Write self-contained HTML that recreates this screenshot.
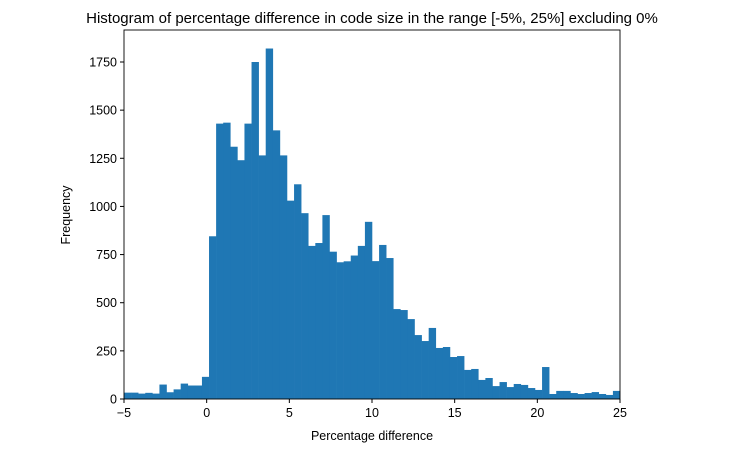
<!DOCTYPE html>
<html><head><meta charset="utf-8"><style>
body{margin:0;background:#fff;font-family:"Liberation Sans","DejaVu Sans",sans-serif;}
</style></head><body>
<svg id="chart" width="743" height="453" xmlns="http://www.w3.org/2000/svg" font-family="Liberation Sans, DejaVu Sans, sans-serif">
<text x="372" y="23" text-anchor="middle" font-size="15">Histogram of percentage difference in code size in the range [-5%, 25%] excluding 0%</text>
<g id="bars"></g>
<g id="axes"></g>
<text x="372" y="440" text-anchor="middle" font-size="12.5">Percentage difference</text>
<text transform="translate(70,215) rotate(-90)" text-anchor="middle" font-size="12.5">Frequency</text>
</svg>
<script>
const binStart = -5;
const binEnd = 25;
const counts = [33,33,28,32,28,75,35,50,80,70,70,115,845,1430,1435,1310,1240,1430,1750,1265,1820,1395,1265,1030,1115,965,795,810,955,765,710,715,745,795,920,716,800,732,467,462,415,332,301,369,265,270,218,223,151,156,99,109,67,88,62,78,73,57,47,166,26,42,42,31,26,31,36,26,21,42];
const xTicks = [-5,0,5,10,15,20,25];
const yTicks = [0,250,500,750,1000,1250,1500,1750];
const L=124,R=620,T=30,B=399;
const xs=v=>L+(v+5)/30*(R-L);
const ys=v=>B-v*(337/1750);
const NS="http://www.w3.org/2000/svg";
const bars=document.getElementById('bars'),axes=document.getElementById('axes');
const w=(binEnd-binStart)/counts.length;
counts.forEach((c,i)=>{
  const r=document.createElementNS(NS,'rect');
  const x0=xs(binStart+i*w),x1=xs(binStart+(i+1)*w);
  r.setAttribute('x',x0);r.setAttribute('width',x1-x0+0.3);
  r.setAttribute('y',ys(c));r.setAttribute('height',B-ys(c));
  r.setAttribute('fill','#1f77b4');
  
  
  bars.appendChild(r);
});
const frame=document.createElementNS(NS,'rect');
frame.setAttribute('x',L);frame.setAttribute('y',T);frame.setAttribute('width',R-L);frame.setAttribute('height',B-T);
frame.setAttribute('fill','none');frame.setAttribute('stroke','#000');frame.setAttribute('stroke-width','0.9');


axes.appendChild(frame);
xTicks.forEach(t=>{
  const l=document.createElementNS(NS,'line');
  l.setAttribute('x1',xs(t));l.setAttribute('x2',xs(t));l.setAttribute('y1',B);l.setAttribute('y2',B+4);l.setAttribute('stroke','#000');
  
  
  axes.appendChild(l);
  const tx=document.createElementNS(NS,'text');
  tx.setAttribute('x',xs(t));tx.setAttribute('y',B+18);tx.setAttribute('text-anchor','middle');tx.setAttribute('font-size','12.5');
  tx.textContent=t<0?'\u2212'+(-t):t;
  
  
  axes.appendChild(tx);
});
yTicks.forEach(t=>{
  const l=document.createElementNS(NS,'line');
  l.setAttribute('x1',L-4);l.setAttribute('x2',L);l.setAttribute('y1',ys(t));l.setAttribute('y2',ys(t));l.setAttribute('stroke','#000');
  
  
  axes.appendChild(l);
  const tx=document.createElementNS(NS,'text');
  tx.setAttribute('x',L-7);tx.setAttribute('y',ys(t)+4.5);tx.setAttribute('text-anchor','end');tx.setAttribute('font-size','12.5');
  tx.textContent=t;
  
  
  axes.appendChild(tx);
});
</script>
</body></html>
